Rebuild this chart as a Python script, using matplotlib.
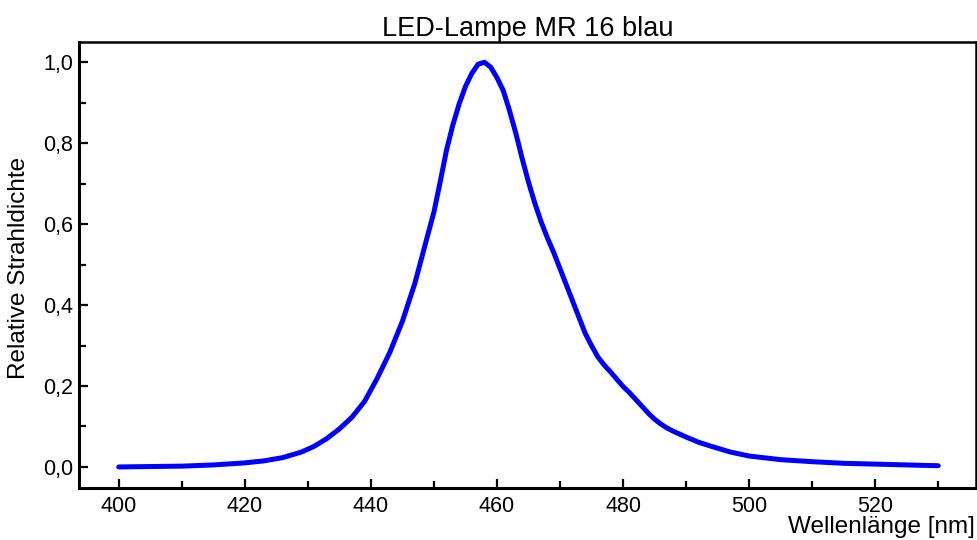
import matplotlib
matplotlib.use("Agg")
import matplotlib.pyplot as plt
from matplotlib.ticker import MultipleLocator, FuncFormatter

plt.rcParams['font.family'] = ['Liberation Sans', 'DejaVu Sans']

# spectrum
wellenlaenge = [400, 405, 410, 415, 420, 423, 426, 429, 431, 433, 435, 437, 439, 441,
                443, 445, 447, 449, 450, 451, 452, 453, 454, 455, 456, 457, 458, 459,
                460, 461, 462, 463, 464, 465, 466, 467, 468, 469, 470, 471, 472, 473,
                474, 475, 476, 477, 478, 479, 480, 481, 482, 483, 484, 485, 486, 487,
                488, 490, 492, 494, 497, 500, 505, 510, 515, 520, 525, 530]
strahldichte = [0.000, 0.001, 0.002, 0.005, 0.010, 0.015, 0.023, 0.037, 0.051, 0.070,
                0.094, 0.123, 0.162, 0.219, 0.283, 0.360, 0.455, 0.572, 0.630, 0.705,
                0.783, 0.845, 0.897, 0.940, 0.972, 0.995, 1.000, 0.988, 0.962, 0.930,
                0.880, 0.824, 0.762, 0.704, 0.652, 0.606, 0.566, 0.530, 0.490, 0.450,
                0.410, 0.370, 0.330, 0.300, 0.272, 0.252, 0.235, 0.217, 0.199, 0.184,
                0.167, 0.150, 0.133, 0.118, 0.106, 0.096, 0.088, 0.074, 0.061, 0.051,
                0.037, 0.027, 0.018, 0.013, 0.009, 0.007, 0.005, 0.003]

fig = plt.figure(figsize=(9.77, 5.40), dpi=100)
ax = fig.add_axes([0.0809, 0.0963, 0.9181, 0.8259])

ax.plot(wellenlaenge, strahldichte, color='#0000ff', lw=3.6, solid_capstyle='round',
        solid_joinstyle='round')

ax.set_xlim(393.7, 536.0)
ax.set_ylim(-0.052, 1.05)

ax.xaxis.set_major_locator(MultipleLocator(20))
ax.xaxis.set_minor_locator(MultipleLocator(10))
ax.yaxis.set_major_locator(MultipleLocator(0.2))
ax.yaxis.set_minor_locator(MultipleLocator(0.1))
ax.yaxis.set_major_formatter(FuncFormatter(lambda v, p: ('%.1f' % v).replace('.', ',')))

ax.tick_params(which='both', direction='in', width=1.6, labelsize=15.5, top=False, right=False)
ax.tick_params(which='major', length=6.5)
ax.tick_params(which='minor', length=5)
ax.tick_params(axis='x', pad=6)
ax.tick_params(axis='y', pad=4)

for s in ['left', 'bottom']:
    ax.spines[s].set_linewidth(2.2)
for s in ['top', 'right']:
    ax.spines[s].set_linewidth(1.8)

ax.set_title('LED-Lampe MR 16 blau', fontsize=19.5, pad=3)
fig.text(975 / 977, 1 - 533 / 540, 'Wellenlänge [nm]', ha='right', va='baseline', fontsize=17.5)
fig.text(19 / 977, 0.504, 'Relative Strahldichte', rotation=90, ha='center', va='center', fontsize=17.5)

fig.savefig('out.png', dpi=100)
